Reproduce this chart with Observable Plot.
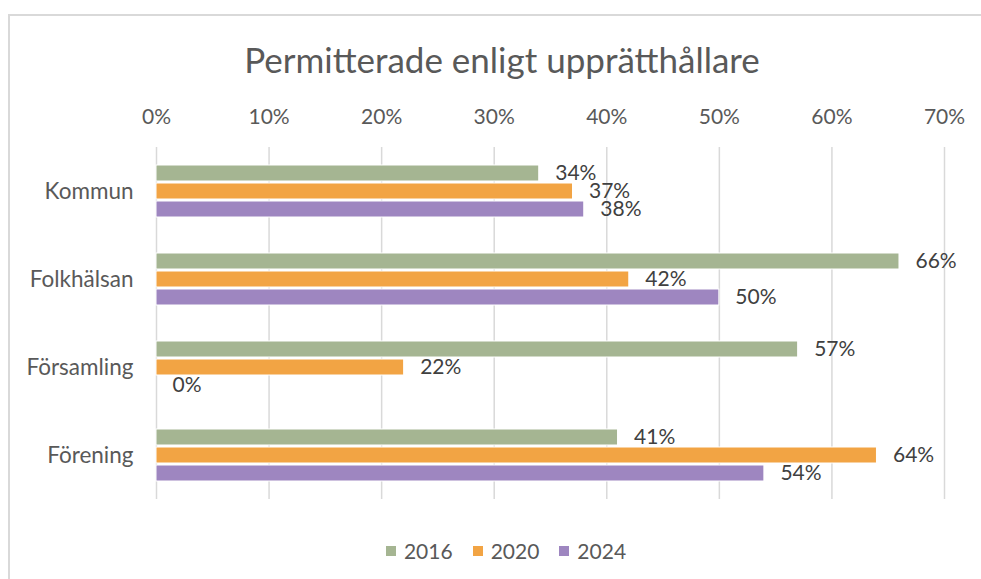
<!DOCTYPE html>
<html>
<head>
<meta charset="utf-8">
<script src="https://cdn.jsdelivr.net/npm/d3@7"></script>
<script src="https://cdn.jsdelivr.net/npm/@observablehq/plot@0.6"></script>
<style>
  html, body { margin: 0; padding: 0; background: #fff; }
  #wrap { position: relative; width: 981px; height: 579px; overflow: hidden; font-family: Lato, sans-serif; }
  #border { position: absolute; left: 8px; top: 14px; width: 990px; height: 600px; border: 2px solid #d9d9d9; box-sizing: border-box; }
  #title { position: absolute; left: 0; width: 1004px; top: 35px; text-align: center; font-size: 35px; color: #595959; line-height: 48px; }
  #chart { position: absolute; left: 0; top: 0; }
  #legend { position: absolute; left: 0; width: 1012px; top: 538px; display: flex; justify-content: center; gap: 20px; font-size: 21px; color: #595959; line-height: 26px; }
  .item { display: flex; align-items: center; gap: 8px; }
  .sw { width: 10px; height: 10px; display: inline-block; }
</style>
</head>
<body>
<div id="wrap">
  <div id="border"></div>
  <div id="chart"></div>
  <div id="title">Permitterade enligt upprätthållare</div>
  <div id="legend"></div>
</div>
<script>
const categories = ["Kommun", "Folkhälsan", "Församling", "Förening"];
const years = ["2016", "2020", "2024"];
const v2016 = [34, 66, 57, 41];
const v2020 = [37, 42, 22, 64];
const v2024 = [38, 50, 0, 54];
const xTicks = [0, 0.1, 0.2, 0.3, 0.4, 0.5, 0.6, 0.7];
const colors = ["#A5B592", "#F2A444", "#9E86C0"];

const series = [v2016, v2020, v2024];
const data = categories.flatMap((c, i) =>
  years.map((y, j) => ({category: c, year: y, value: series[j][i] / 100}))
);
const pct = d => Math.round(d * 100) + "%";

const chart = Plot.plot({
  width: 981,
  height: 579,
  marginTop: 146,
  marginBottom: 79,
  marginLeft: 156,
  marginRight: 37,
  style: {fontFamily: "Lato, sans-serif", background: "transparent"},
  x: {domain: [0, 0.7]},
  fy: {domain: categories, padding: 0, label: null},
  y: {domain: years, paddingInner: 0.11, paddingOuter: 0.95, axis: null},
  color: {domain: years, range: colors},
  marks: [
    Plot.gridX(xTicks, {stroke: "#d9d9d9", strokeOpacity: 1, strokeWidth: 1.5}),
    Plot.axisX(xTicks, {anchor: "top", tickSize: 0, tickPadding: 24, tickFormat: pct, label: null, fontSize: 21, fill: "#595959"}),
    Plot.axisFy({anchor: "left", tickSize: 0, tickPadding: 23, label: null, fontSize: 22.5, fill: "#595959"}),
    Plot.barX(data, {x: "value", y: "year", fy: "category", fill: "year", stroke: "white", strokeWidth: 1}),
    Plot.text(data, {x: "value", y: "year", fy: "category", text: d => pct(d.value), dx: 16, textAnchor: "start", fontSize: 21, fill: "#404040"})
  ]
});
document.getElementById("chart").appendChild(chart);

const legend = document.getElementById("legend");
years.forEach((y, i) => {
  const item = document.createElement("div");
  item.className = "item";
  item.innerHTML = `<span class="sw" style="background:${colors[i]}"></span><span>${y}</span>`;
  legend.appendChild(item);
});
</script>
</body>
</html>
